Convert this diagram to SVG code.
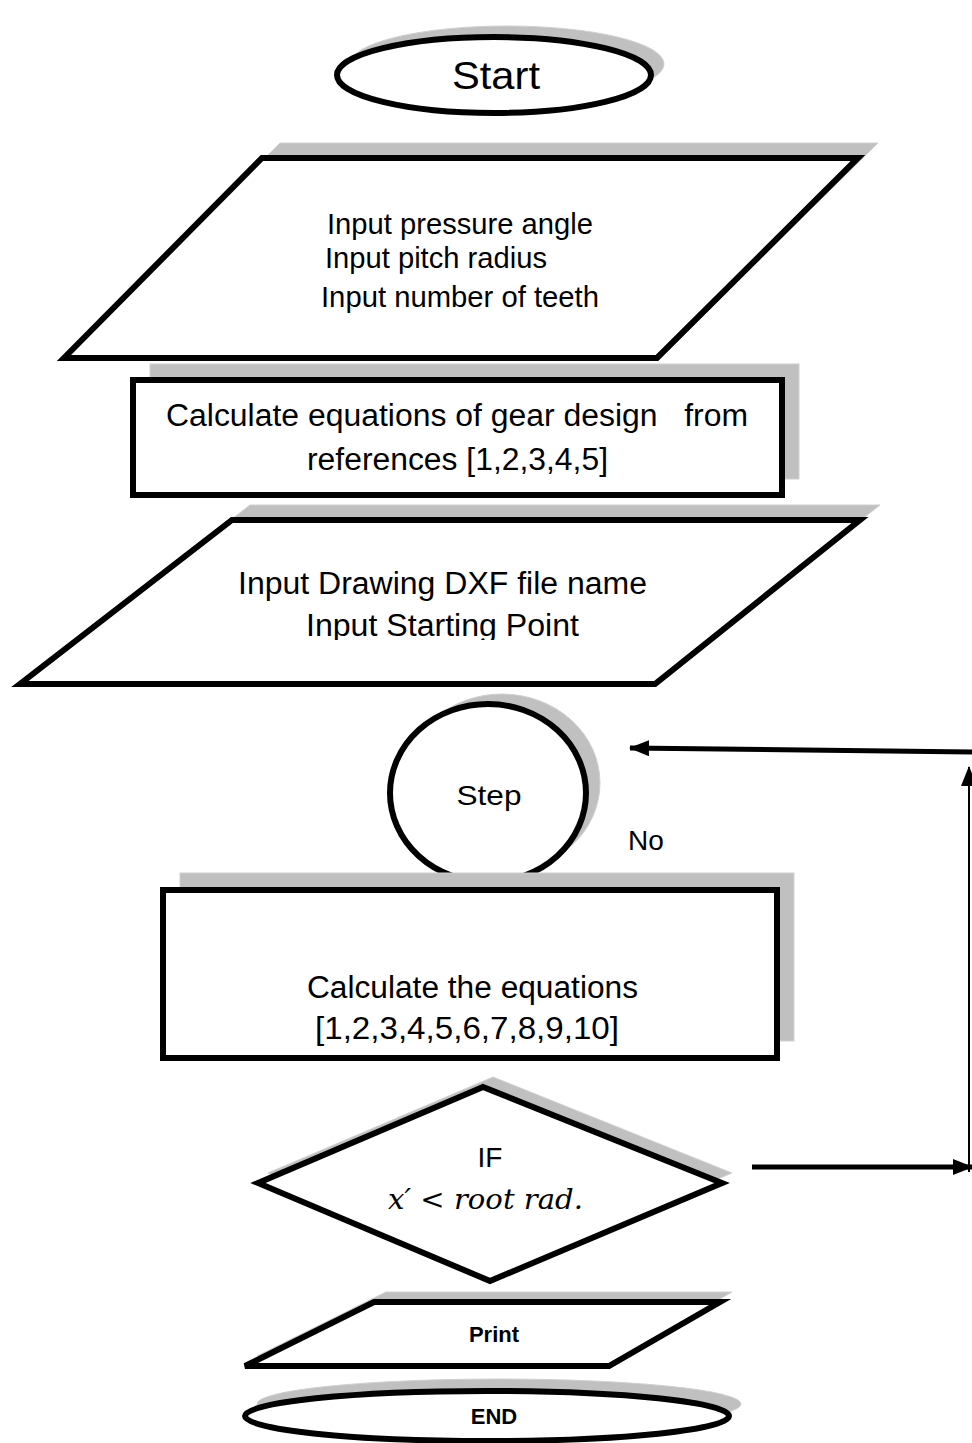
<svg xmlns="http://www.w3.org/2000/svg" width="972" height="1443" viewBox="0 0 972 1443">
<style>
.sh{fill:#c0c0c0;stroke:#d0d0d0;stroke-width:1}
.nd{fill:#fff;stroke:#000;stroke-width:6;stroke-linejoin:miter}
.t{font-family:"Liberation Sans",Arial,sans-serif;fill:#000}
.b{font-weight:bold}
.conn{stroke:#000;fill:none}
</style>
<defs>
<marker id="ah" markerWidth="20" markerHeight="16" refX="19" refY="8" orient="auto" markerUnits="userSpaceOnUse" viewBox="0 0 20 16">
<path d="M0,0 L20,8 L0,16 z" fill="#000"/>
</marker>
<clipPath id="clip2"><rect x="0" y="500" width="972" height="140"/></clipPath>
</defs>
<rect width="972" height="1443" fill="#fff"/>

<g id="start">
<ellipse class="sh" cx="507" cy="64" rx="157" ry="38"/>
<ellipse class="nd" cx="494" cy="75" rx="157" ry="38" stroke-width="5"/>
<text class="t" x="496" y="89" font-size="39" text-anchor="middle" textLength="88" lengthAdjust="spacingAndGlyphs">Start</text>
</g>

<g id="input1">
<polygon class="sh" points="280,143 878,143 675,343 82,343"/>
<polygon class="nd" points="262,158 858,158 657,358 64,358"/>
<text class="t" x="327" y="234" font-size="30" textLength="266" lengthAdjust="spacingAndGlyphs">Input pressure angle</text>
<text class="t" x="325" y="268" font-size="30" textLength="222" lengthAdjust="spacingAndGlyphs">Input pitch radius</text>
<text class="t" x="321" y="307" font-size="30" textLength="278" lengthAdjust="spacingAndGlyphs">Input number of teeth</text>
</g>

<g id="calc1">
<rect class="sh" x="150" y="364" width="649" height="115"/>
<rect class="nd" x="133" y="380" width="649" height="115"/>
<text class="t" x="166" y="426" font-size="31" textLength="582" lengthAdjust="spacingAndGlyphs" xml:space="preserve">Calculate equations of gear design   from</text>
<text class="t" x="307" y="470" font-size="31" textLength="301" lengthAdjust="spacingAndGlyphs">references [1,2,3,4,5]</text>
</g>

<g id="input2">
<polygon class="sh" points="250,505 880,505 673,669 38,669"/>
<polygon class="nd" points="232,520 860,520 655,684 20,684"/>
<g clip-path="url(#clip2)">
<text class="t" x="238" y="594" font-size="31" textLength="409" lengthAdjust="spacingAndGlyphs">Input Drawing DXF file name</text>
<text class="t" x="306" y="636" font-size="31" textLength="273" lengthAdjust="spacingAndGlyphs">Input Starting Point</text>
</g>
</g>

<g id="step">
<ellipse class="sh" cx="502" cy="783" rx="98" ry="89"/>
<ellipse class="nd" cx="488" cy="793" rx="98" ry="89" stroke-width="5"/>
<text class="t" x="489" y="805" font-size="28" text-anchor="middle" textLength="65" lengthAdjust="spacingAndGlyphs">Step</text>
</g>

<g id="calc2">
<rect class="sh" x="180" y="873" width="614" height="168"/>
<rect class="nd" x="163" y="890" width="614" height="168"/>
<text class="t" x="307" y="998" font-size="31" textLength="331" lengthAdjust="spacingAndGlyphs">Calculate the equations</text>
<text class="t" x="315" y="1039" font-size="31" textLength="304" lengthAdjust="spacingAndGlyphs">[1,2,3,4,5,6,7,8,9,10]</text>
</g>

<g id="decision">
<polygon class="sh" points="268,1173 493,1077 732,1173 500,1271"/>
<polygon class="nd" points="258,1183 483,1087 722,1183 490,1281"/>
<text class="t" x="490" y="1167" font-size="28" text-anchor="middle">IF</text>
<text x="388" y="1209" font-size="27" font-style="italic" textLength="195" lengthAdjust="spacingAndGlyphs" font-family="'DejaVu Serif','Liberation Serif',serif">𝑥′ &lt; 𝑟𝑜𝑜𝑡 𝑟𝑎𝑑.</text>
</g>

<g id="print">
<polygon class="sh" points="386,1292 732,1292 621,1356 257,1356"/>
<polygon class="nd" points="374,1302 720,1302 609,1366 245,1366"/>
<text class="t b" x="494" y="1342" font-size="22" text-anchor="middle">Print</text>
</g>

<g id="end">
<ellipse class="sh" cx="499" cy="1404" rx="242" ry="25"/>
<ellipse class="nd" cx="487" cy="1416" rx="242" ry="25" stroke-width="5"/>
<text class="t b" x="494" y="1424" font-size="22" text-anchor="middle">END</text>
</g>

<g id="no-label">
<text class="t" x="628" y="850" font-size="28">No</text>
</g>

<g id="connectors">
<line class="conn" x1="752" y1="1167" x2="972" y2="1167" stroke-width="5" marker-end="url(#ah)"/>
<line class="conn" x1="969" y1="1172" x2="969" y2="767" stroke-width="2" marker-end="url(#ah)"/>
<line class="conn" x1="972" y1="752" x2="630" y2="748" stroke-width="5" marker-end="url(#ah)"/>
</g>
</svg>
